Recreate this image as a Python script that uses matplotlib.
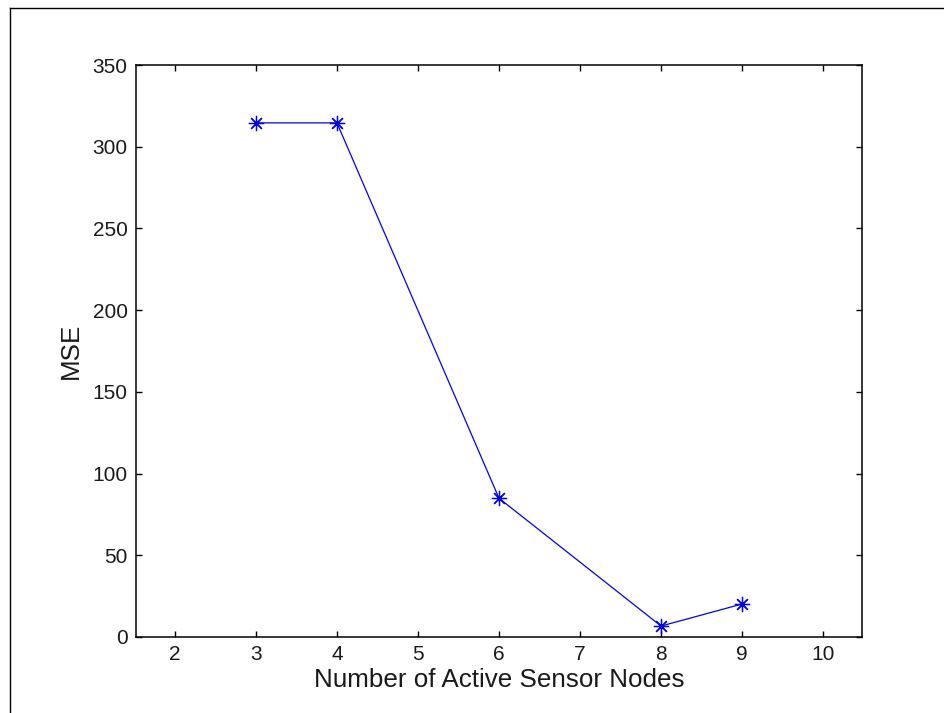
import matplotlib
matplotlib.use('Agg')
import matplotlib.pyplot as plt
from matplotlib.lines import Line2D

# active node counts and resulting mean squared error
nodes = [3, 4, 6, 8, 9]
mse = [314.6, 314.6, 84.9, 6.7, 20.2]

x_ticks = [2, 3, 4, 5, 6, 7, 8, 9, 10]
y_ticks = [0, 50, 100, 150, 200, 250, 300, 350]

plt.rcParams['font.family'] = ['Liberation Sans', 'DejaVu Sans']

fig = plt.figure(figsize=(9.45, 7.13), dpi=100)
ax = fig.add_axes([0.1439, 0.1066, 0.9122 - 0.1439, 0.9088 - 0.1066])

ax.plot(nodes, mse, color='#0000ff', linewidth=0.9,
        marker=(8, 2, 0), markersize=11, markeredgewidth=0.9)

ax.set_xlim(1.52, 10.48)
ax.set_ylim(0, 350)
ax.set_xticks(x_ticks)
ax.set_yticks(y_ticks)
ax.tick_params(direction='in', length=4.5, width=1.0, labelsize=15,
               top=True, right=True, pad=6, labelcolor='#1a1a1a')
for s in ax.spines.values():
    s.set_linewidth(1.1)

ax.set_xlabel('Number of Active Sensor Nodes', fontsize=18.7, labelpad=3,
              color='#1a1a1a')
ax.set_ylabel('MSE', fontsize=18.7, labelpad=7, color='#1a1a1a')

# window frame around the figure
fig.add_artist(Line2D([10/945, 10/945], [0, 1 - 8/713], transform=fig.transFigure,
                      color='black', linewidth=1.0))
fig.add_artist(Line2D([10/945, 1], [1 - 8/713, 1 - 8/713], transform=fig.transFigure,
                      color='black', linewidth=1.0))

fig.savefig('out.png', dpi=100)
